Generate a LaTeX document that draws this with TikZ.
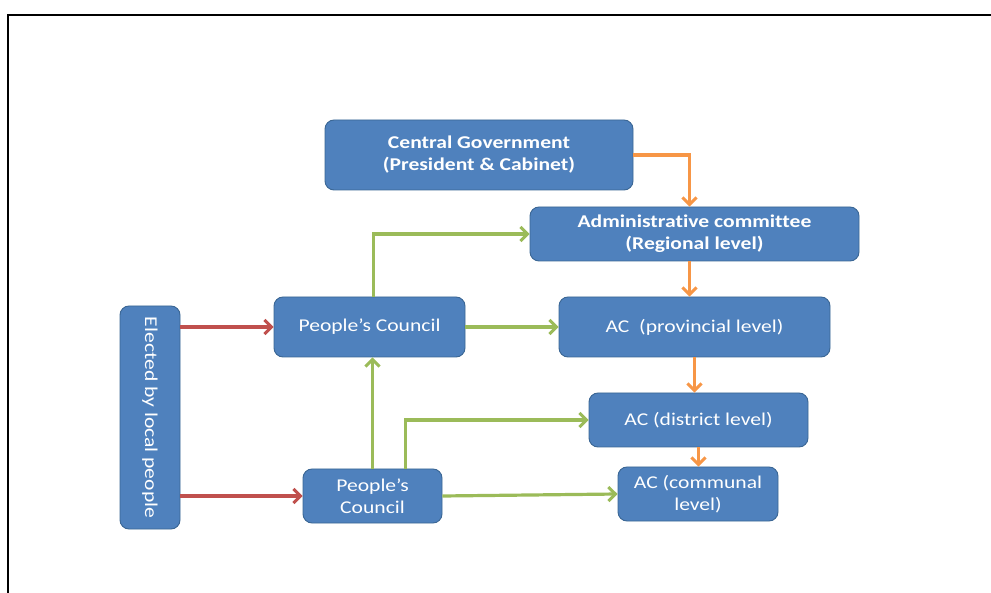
\documentclass[tikz,border=0pt]{standalone}
\usepackage{fontspec}
\setmainfont{Carlito}[FakeStretch=1.2,Ligatures=NoCommon]
\usetikzlibrary{arrows.meta}
\definecolor{boxfill}{HTML}{4F81BD}
\definecolor{boxline}{HTML}{3A6694}
\definecolor{orng}{HTML}{F79646}
\definecolor{grn}{HTML}{9BBB59}
\definecolor{rd}{HTML}{C0504D}
\begin{document}
\begin{tikzpicture}[x=1pt,y=-1pt,
  box/.style={draw=boxline, line width=0.9pt, fill=boxfill, rounded corners=9pt,
    text=white, align=center, inner sep=0pt,
    font=\fontsize{18}{22}\selectfont},
  bbox/.style={box, font=\fontsize{18}{22}\selectfont\bfseries},
  conn/.style={line width=3.2pt, -{Straight Barb[length=7pt,width=14pt,line width=3pt]}},
  oarr/.style={conn, draw=orng},
  garr/.style={conn, draw=grn},
  rarr/.style={conn, draw=rd}]
\useasboundingbox (0,0) rectangle (991,593);
\draw[line width=2.4pt] (8,593) -- (8,15) -- (991,15);

\node[bbox, minimum width=308pt, minimum height=70pt] (central) at (479,155) {Central Government\\(President \& Cabinet)};
\node[bbox, minimum width=329pt, minimum height=54pt] (admin) at (694.5,234) {Administrative committee\\(Regional level)};
\node[box, minimum width=191pt, minimum height=60pt] (pctop) at (369.5,327) {People’s Council};
\node[box, minimum width=271pt, minimum height=60pt] (prov) at (694.5,327) {AC\ \ (provincial level)};
\node[box, minimum width=219pt, minimum height=54pt] (dist) at (698.5,420) {AC (district level)};
\node[box, minimum width=160pt, minimum height=54pt] (comm) at (698,494) {AC (communal\\level)};
\node[box, minimum width=139pt, minimum height=54pt] (pcbot) at (372.5,496) {People’s\\Council};
\node[box, minimum width=223pt, minimum height=60pt, rotate=-90] (elect) at (150,417.5) {Elected by local people};

\draw[oarr] (central.east) -| ([xshift=-5pt]admin.north);
\draw[oarr] ([xshift=-5pt]admin.south) -- ([xshift=-5pt]prov.north);
\draw[oarr] (prov.south) -- (prov.south |- dist.north);
\draw[oarr] (dist.south) -- (dist.south |- comm.north);

\draw[garr] ([xshift=4pt]pctop.north) |- (admin.west);
\draw[garr] (pctop.east) -- (prov.west);
\draw[garr] (pcbot.north) -- (pcbot.north |- pctop.south);
\draw[garr] ([xshift=33pt]pcbot.north) |- (dist.west);
\draw[garr] (pcbot.east) -- (comm.west);

\draw[rarr] (elect.north |- pctop.west) -- (pctop.west);
\draw[rarr] (elect.north |- pcbot.west) -- (pcbot.west);
\end{tikzpicture}
\end{document}
